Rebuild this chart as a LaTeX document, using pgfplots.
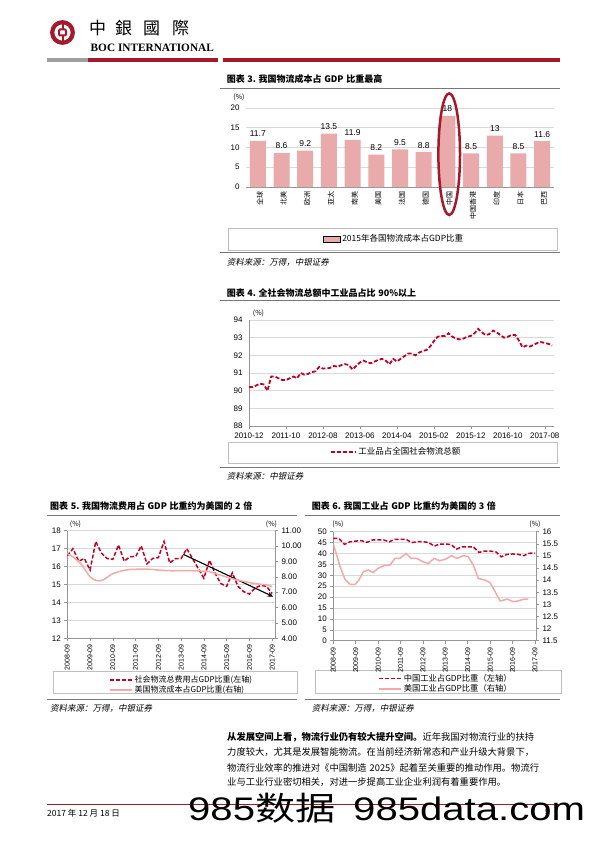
\documentclass[border=0pt]{standalone}
\usepackage{fontspec}
\setmainfont{Liberation Sans}
\newfontfamily\cjk{Noto Sans CJK SC}
\newfontfamily\cjktc{Noto Sans CJK TC}
\newfontfamily\cjkit{Noto Sans CJK SC}[FakeSlant=0.2]
\newfontfamily\tserif{Liberation Serif}
\usepackage{graphicx}
\usepackage{pgfplots}
\pgfplotsset{compat=1.18}
\usetikzlibrary{arrows.meta}
\XeTeXlinebreaklocale "zh"
\XeTeXlinebreakskip=0pt plus 1fil

\definecolor{bocred}{RGB}{165,25,45}
\definecolor{barpink}{RGB}{232,170,170}
\definecolor{dashred}{RGB}{192,0,35}
\definecolor{linepink}{RGB}{244,168,168}
\definecolor{gridgray}{RGB}{217,217,217}
\definecolor{axgray}{RGB}{150,150,150}
\definecolor{boxgray}{RGB}{191,191,191}
\definecolor{rulegray}{RGB}{120,120,120}

\newcommand{\fs}[1]{\fontsize{#1}{#1}\selectfont}
\newcommand{\ttl}[2]{\makebox[#1][s]{\cjk\bfseries\fs{9}#2}}
\newcommand{\tsp}{\kern2.6pt}

\pgfplotsset{
  pagestyle/.style={
    scale only axis, anchor=south west,
    /pgf/number format/assume math mode=true,
    tick align=outside,
    major tick length=3pt,
    tick style={axgray, line width=0.5pt},
    axis line style={axgray, line width=0.6pt},
    grid style={gridgray, line width=0.5pt},
    ymajorgrids,
    tick label style={font=\fs{8}},
    legend image code/.code={\draw[##1] (0pt,0pt) -- (22pt,0pt);},
    legend cell align=left,
  },
}

\begin{document}
\begin{tikzpicture}
\path[use as bounding box, fill=white] (0,0) rectangle (596pt,-842pt);

% ---------- header ----------
\draw[bocred, line width=4.2pt] (62.5pt,-32.5pt) circle (10.3pt);
\draw[bocred, line width=2pt, rounded corners=1pt] (59pt,-29.5pt) rectangle (66pt,-35.5pt);
\draw[bocred, line width=2pt] (62.5pt,-22pt) -- (62.5pt,-29.5pt) (62.5pt,-35.5pt) -- (62.5pt,-43pt);
\node[font=\cjktc\fs{17}, inner sep=0] at (97.5pt,-28.5pt) {中};
\node[font=\cjktc\fs{17}, inner sep=0] at (123.5pt,-28.5pt) {銀};
\node[font=\cjktc\fs{17}, inner sep=0] at (151.5pt,-28.5pt) {國};
\node[font=\cjktc\fs{17}, inner sep=0] at (180.5pt,-28.5pt) {際};
\node[anchor=base west, inner sep=0, font=\tserif\bfseries\fs{11.3}] at (90.5pt,-51.5pt) {BOC INTERNATIONAL};
\fill[gray!75] (47pt,-58.3pt) rectangle (88pt,-62.3pt);
\fill[bocred] (88pt,-58.3pt) rectangle (218pt,-62.3pt);
\fill[bocred] (223pt,-58.3pt) rectangle (560pt,-62.3pt);

% ---------- chart 3 ----------
\node[anchor=west, inner sep=0] at (226.7pt,-79pt) {\ttl{161pt}{图表\tsp 3.\tsp 我国物流成本占\tsp GDP\tsp 比重最高}};
\draw[rulegray, line width=0.8pt] (220pt,-88.3pt) -- (560pt,-88.3pt);
\node[font=\cjk\fs{7}, inner sep=0] at (239pt,-97pt) {(\%)};
\draw[boxgray, line width=0.6pt] (228pt,-228pt) rectangle (557pt,-250pt);
\begin{axis}[pagestyle, at={(246pt,-187pt)}, width=308pt, height=79pt,
  xmin=-0.5, xmax=12.5, ymin=0, ymax=20, ytick={0,5,10,15,20},
  xtick={0,...,12},
  xticklabels={全球,北美,欧洲,亚太,南美,美国,法国,德国,中国,中国香港,印度,日本,巴西},
  xticklabel style={font=\cjk\fs{7}, rotate=90, anchor=east, inner sep=1pt, yshift=-2pt},
  major x tick style={draw=none},
  ytick style={draw=none},
  extra x ticks={-0.5,0.5,...,12.5}, extra x tick labels={},
  extra x tick style={major tick length=5pt, tick style={axgray}, grid=none},
  axis x line*=bottom, axis y line*=left,
  y axis line style={draw=none},
  legend style={draw=none, fill=none, at={(0.4805,-0.658)}, anchor=center, font=\cjk\fs{8.5}},
]
\addplot[ybar, bar width=16pt, fill=barpink, draw=none, area legend,
  nodes near coords, nodes near coords style={font=\fs{8.5}, yshift=0.5pt, /pgf/number format/assume math mode=true}]
  coordinates {(0,11.7) (1,8.6) (2,9.2) (3,13.5) (4,11.9) (5,8.2) (6,9.5) (7,8.8) (8,18) (9,8.5) (10,13) (11,8.5) (12,11.6)};
\addlegendentry{2015年各国物流成本占GDP比重}
\end{axis}
\draw[bocred, line width=2.5pt] (449.2pt,-154.2pt) ellipse (10.8pt and 60.8pt);
\draw[rulegray, line width=0.8pt] (220pt,-252.7pt) -- (560pt,-252.7pt);
\node[anchor=west, inner sep=0, font=\cjkit\fs{8.5}] at (226.7pt,-262pt) {资料来源：万得，中银证券};

% ---------- chart 4 ----------
\node[anchor=west, inner sep=0] at (226.7pt,-292.7pt) {\ttl{200pt}{图表\tsp 4.\tsp 全社会物流总额中工业品占比\tsp 90\%以上}};
\draw[rulegray, line width=0.8pt] (220pt,-300.7pt) -- (560pt,-300.7pt);
\node[font=\cjk\fs{7}, inner sep=0] at (258.5pt,-313pt) {(\%)};
\draw[boxgray, line width=0.6pt] (228pt,-442pt) rectangle (557pt,-463pt);
\begin{axis}[pagestyle, at={(249pt,-426pt)}, width=305pt, height=106pt,
  xmin=0, xmax=82.5, ymin=88, ymax=94, ytick={88,...,94},
  xtick={0,10,...,80},
  xticklabels={2010-12,2011-10,2012-08,2013-06,2014-04,2015-02,2015-12,2016-10,2017-08},
  ytick style={draw=none},
  axis x line*=bottom, axis y line*=left,
  legend style={draw=none, fill=none, at={(0.482,-0.245)}, anchor=center, font=\cjk\fs{8.5}},
  legend image code/.code={\draw[#1] (0pt,0pt) -- (25pt,0pt);},
]
\addplot[dashred, line width=1.8pt, dash pattern=on 4pt off 2pt] coordinates {
(0,90.2) (1,90.2) (2,90.3) (3,90.4) (4,90.35) (5,90.0) (6,90.8) (7,90.8) (8,90.7) (9,90.6)
(10,90.6) (11,90.7) (12,90.8) (13,90.7) (14,91.0) (15,90.9) (16,90.95) (17,91.05) (18,91.1) (19,91.35)
(20,91.25) (21,91.25) (22,91.3) (23,91.4) (24,91.35) (25,91.45) (26,91.5) (27,91.45) (28,91.2) (29,91.4)
(30,91.6) (31,91.7) (32,91.6) (33,91.55) (34,91.65) (35,91.75) (36,91.8) (37,91.7) (38,91.5) (39,91.8)
(40,91.65) (41,91.8) (42,91.95) (43,92.1) (44,92.1) (45,92.0) (46,92.15) (47,92.25) (48,92.3) (49,92.5)
(50,92.8) (51,93.05) (52,93.1) (53,93.1) (54,93.25) (55,93.05) (56,92.95) (57,92.9) (58,92.95) (59,93.05)
(60,93.1) (61,93.25) (62,93.5) (63,93.3) (64,93.15) (65,93.2) (66,93.4) (67,93.3) (68,93.15) (69,93.0)
(70,93.05) (71,93.15) (72,93.15) (73,92.85) (74,92.45) (75,92.55) (76,92.5) (77,92.6) (78,92.7) (79,92.75)
(80,92.7) (81,92.65) (82,92.55)};
\addlegendentry{工业品占全国社会物流总额}
\end{axis}
\draw[rulegray, line width=0.8pt] (220pt,-467pt) -- (560pt,-467pt);
\node[anchor=west, inner sep=0, font=\cjkit\fs{8.5}] at (226.7pt,-476pt) {资料来源：中银证券};

% ---------- chart 5 ----------
\node[anchor=west, inner sep=0] at (50pt,-506pt) {\ttl{212pt}{图表\tsp 5.\tsp 我国物流费用占\tsp GDP\tsp 比重约为美国的\tsp 2\tsp 倍}};
\draw[rulegray, line width=0.8pt] (47pt,-515pt) -- (297pt,-515pt);
\node[font=\cjk\fs{7}, inner sep=0] at (75.5pt,-524pt) {(\%)};
\node[font=\cjk\fs{7}, inner sep=0] at (271.5pt,-524pt) {(\%)};
\draw[boxgray, line width=0.6pt] (53pt,-671.7pt) rectangle (297pt,-693.3pt);
\begin{axis}[pagestyle, at={(67.3pt,-638.3pt)}, width=207.7pt, height=107.6pt,
  xmin=0, xmax=36.5, ymin=12, ymax=18, ytick={12,...,18},
  xtick={0,4,...,36},
  xticklabels={2008-09,2009-09,2010-09,2011-09,2012-09,2013-09,2014-09,2015-09,2016-09,2017-09},
  xticklabel style={rotate=90, anchor=east, font=\fs{7}},
  axis x line*=bottom, axis y line*=left,
  legend style={draw=none, fill=none, at={(0.186,-0.31)}, anchor=north west, font=\cjk\fs{8}, row sep=-2pt},
]
\addplot[dashred, line width=1.5pt, dash pattern=on 4pt off 2pt] coordinates {
(0,16.6) (1,17.0) (2,16.3) (3,16.45) (4,15.8) (5,17.4) (6,16.75) (7,16.45) (8,16.4) (9,17.2)
(10,16.3) (11,16.55) (12,16.55) (13,17.15) (14,16.15) (15,16.45) (16,16.5) (17,17.4) (18,16.2) (19,16.45)
(20,16.45) (21,17.0) (22,16.45) (23,15.9) (24,15.35) (25,16.35) (26,15.6) (27,15.05) (28,14.9) (29,15.65)
(30,14.9) (31,14.6) (32,14.47) (33,14.8) (34,14.95) (35,14.9) (36,14.5)};
\addlegendentry{社会物流总费用占GDP比重(左轴)}
\addlegendimage{linepink, line width=1.5pt}
\addlegendentry{美国物流成本占GDP比重(右轴)}
\draw[-{Stealth[length=6pt,width=5pt]}, line width=1.1pt, black] (axis cs:20.4,16.68) -- (axis cs:36.2,14.32);
\end{axis}
\begin{axis}[pagestyle, at={(67.3pt,-638.3pt)}, width=207.7pt, height=107.6pt,
  xmin=0, xmax=36.5, ymin=4, ymax=11, ytick={4,...,11}, ymajorgrids=false,
  yticklabel style={/pgf/number format/.cd, fixed, fixed zerofill, precision=2},
  axis y line*=right, axis x line=none,
]
\addplot[linepink, line width=1.5pt, smooth, tension=0.5] coordinates {
(0,9.5) (1,9.3) (2.5,8.8) (4,8.0) (5.2,7.75) (6.3,7.8) (8,8.2) (10.4,8.45) (14,8.5) (17.5,8.4)
(21,8.4) (23.3,8.38) (25,8.33) (26.8,8.12) (29.8,7.8) (32.7,7.58) (35,7.47) (36,7.36)};
\end{axis}
\draw[rulegray, line width=0.8pt] (47pt,-699.3pt) -- (297pt,-699.3pt);
\node[anchor=west, inner sep=0, font=\cjkit\fs{8.5}] at (50pt,-708pt) {资料来源：万得，中银证券};

% ---------- chart 6 ----------
\node[anchor=west, inner sep=0] at (311.7pt,-506pt) {\ttl{190pt}{图表\tsp 6.\tsp 我国工业占\tsp GDP\tsp 比重约为美国的\tsp 3\tsp 倍}};
\draw[rulegray, line width=0.8pt] (305pt,-515pt) -- (560pt,-515pt);
\node[font=\cjk\fs{7}, inner sep=0] at (338pt,-524pt) {(\%)};
\node[font=\cjk\fs{7}, inner sep=0] at (535pt,-524pt) {(\%)};
\draw[boxgray, line width=0.6pt] (315pt,-670pt) rectangle (561.7pt,-693.3pt);
\begin{axis}[pagestyle, at={(333.3pt,-640.7pt)}, width=202.7pt, height=109pt,
  xmin=0, xmax=36.2, ymin=0, ymax=50, ytick={0,5,...,50},
  xtick={0,4,...,36},
  xticklabels={2008-09,2009-09,2010-09,2011-09,2012-09,2013-09,2014-09,2015-09,2016-09,2017-09},
  xticklabel style={rotate=90, anchor=east, font=\fs{7}},
  axis x line*=bottom, axis y line*=left,
  legend style={draw=none, fill=none, at={(0.206,-0.268)}, anchor=north west, font=\cjk\fs{8.3}, row sep=-2pt},
]
\addplot[dashred, line width=1.5pt, dash pattern=on 4pt off 2pt] coordinates {
(0,46.9) (1,46.9) (2,44.2) (3,45.4) (4,45.7) (5,45.9) (6,45.1) (7,46.2) (8,46.2) (9,46.2)
(10,45.4) (11,46.5) (12,46.5) (13,46.5) (14,45.0) (15,45.4) (16,45.4) (17,45.1) (18,43.4) (19,44.3)
(20,44.3) (21,44.2) (22,42.0) (23,43.1) (24,43.1) (25,43.1) (26,40.5) (27,41.1) (28,41.1) (29,40.8)
(30,38.5) (31,39.6) (32,39.8) (33,39.6) (34,39.0) (35,40.1) (36,40.2)};
\addlegendentry{中国工业占GDP比重（左轴）}
\addlegendimage{linepink, line width=1.5pt}
\addlegendentry{美国工业占GDP比重（右轴）}
\end{axis}
\begin{axis}[pagestyle, at={(333.3pt,-640.7pt)}, width=202.7pt, height=109pt,
  xmin=0, xmax=36.2, ymin=11.5, ymax=16, ytick={11.5,12,...,16}, ymajorgrids=false,
  axis y line*=right, axis x line=none,
]
\addplot[linepink, line width=1.5pt] coordinates {
(0,15.48) (0.6,15.04) (1.2,14.56) (2.1,14.03) (3.0,13.83) (3.9,13.83) (4.5,13.98) (5.4,14.35) (6.25,14.42) (7.1,14.31)
(8.0,14.49) (9.2,14.61) (10.1,14.62) (11.0,14.9) (11.9,14.9) (13.0,15.1) (13.9,14.9) (14.9,14.9) (16.0,14.76) (17.0,14.69)
(18.0,14.9) (19.0,14.8) (20.1,14.87) (21.1,15.01) (22.1,14.9) (23.2,15.01) (24.1,14.97) (25.0,14.62) (25.9,14.07) (27.1,14.0)
(28.0,13.9) (28.9,13.52) (29.8,13.14) (30.5,13.18) (31.1,13.22) (32.1,13.11) (33.0,13.14) (33.9,13.21) (34.8,13.22)};
\end{axis}
\draw[rulegray, line width=0.8pt] (305pt,-699.3pt) -- (560pt,-699.3pt);
\node[anchor=west, inner sep=0, font=\cjkit\fs{8.5}] at (311.7pt,-708pt) {资料来源：万得，中银证券};

% ---------- body text ----------
\node[anchor=west, inner sep=0, font=\cjk\fs{9.3}] at (227pt,-737pt) {\makebox[326pt][s]{{\bfseries 从发展空间上看，物流行业仍有较大提升空间。}近年我国对物流行业的扶持}};
\node[anchor=west, inner sep=0, font=\cjk\fs{9.3}] at (227pt,-752.5pt) {\makebox[326pt][s]{力度较大，尤其是发展智能物流。在当前经济新常态和产业升级大背景下，}};
\node[anchor=west, inner sep=0, font=\cjk\fs{9.3}] at (227pt,-767.5pt) {\makebox[326pt][s]{物流行业效率的推进对《中国制造\kern3pt 2025》起着至关重要的推动作用。物流行}};
\node[anchor=west, inner sep=0, font=\cjk\fs{9.3}] at (227pt,-782pt) {\makebox[293pt][s]{业与工业行业密切相关，对进一步提高工业企业利润有着重要作用。}};

% ---------- footer ----------
\draw[bocred, line width=0.8pt] (47pt,-804pt) -- (561pt,-804pt);
\node[anchor=west, inner sep=0, font=\cjk\fs{8.5}] at (47pt,-813pt) {2017 年 12 月 18 日};
\node[anchor=west, inner sep=0, font=\fs{7.5}] at (545pt,-812pt) {5};
\node[anchor=base west, inner sep=0] at (188pt,-820pt) {\scalebox{1.23}[1]{\fs{32.6}985{\cjk 数据}}};
\node[anchor=base west, inner sep=0] at (353pt,-820pt) {\scalebox{1.23}[1]{\fs{32.6}985data.com}};
\end{tikzpicture}
\end{document}
